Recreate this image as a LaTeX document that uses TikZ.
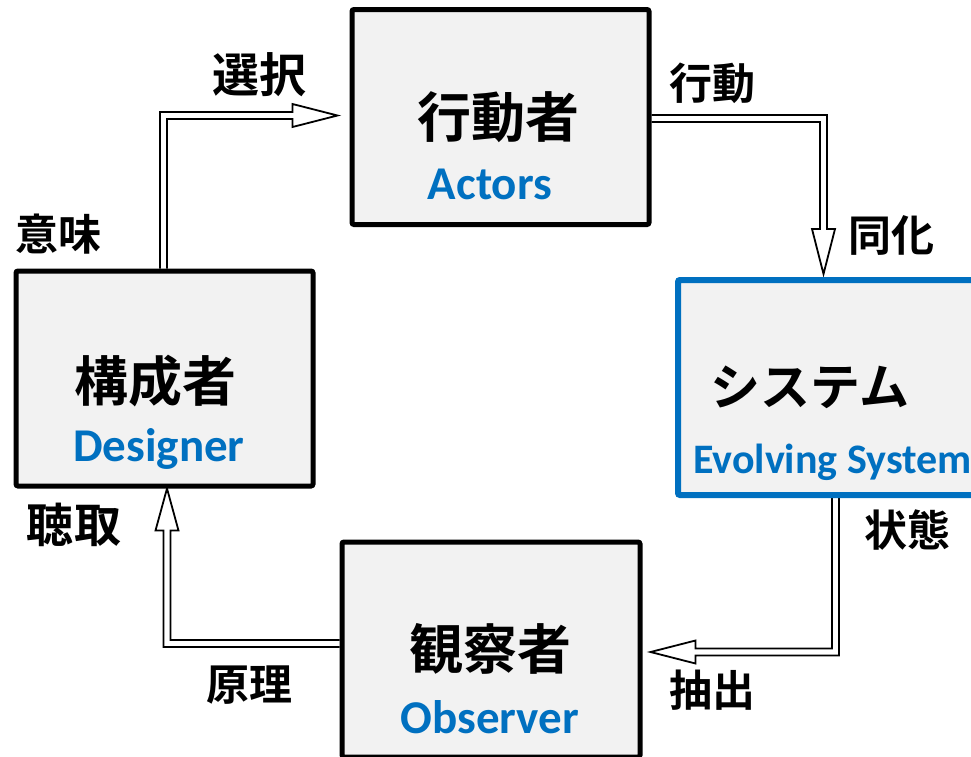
\documentclass[tikz,border=0pt]{standalone}
\usepackage{fontspec}
\setmainfont{Carlito}
\newfontfamily\cjk{Noto Sans CJK JP}[BoldFont={Noto Sans CJK JP Bold}]
\usetikzlibrary{calc,backgrounds}
\definecolor{boxgray}{HTML}{F2F2F2}
\definecolor{sysblue}{HTML}{0070C0}
\tikzset{
  box/.style={rectangle, draw=black, line width=5pt, fill=boxgray, rounded corners=2pt, inner sep=0pt, minimum width=297pt, minimum height=215pt},
  sysbox/.style={box, draw=sysblue, line width=6pt},
  title/.style={font=\cjk\bfseries\fontsize{54}{60}\selectfont, inner sep=0pt},
  sub/.style={font=\bfseries\fontsize{47}{52}\selectfont, text=sysblue, inner sep=0pt},
  lab/.style={font=\cjk\bfseries\fontsize{43}{48}\selectfont, inner sep=0pt},
  labbig/.style={font=\cjk\bfseries\fontsize{47}{52}\selectfont, inner sep=0pt},
  hollow/.style={draw=black, fill=white, line width=1.8pt, line join=miter}
}
\begin{document}
\begin{tikzpicture}[x=1pt,y=-1pt]
\useasboundingbox (0,0) rectangle (971,756);
\clip (0,0) rectangle (971,756);
% boxes
\node[box] (actors) at (500.5,117) {};
\node[box] (designer) at (164.5,378.5) {};
\node[box, minimum width=298pt] (observer) at (491,649.5) {};
\node[sysbox] (system) at (826.5,387.5) {};
% box texts
\node[title] (tact) at (498,117) {行動者};
\node[sub, anchor=base] (sact) at (490,199) {Actors};
\node[title] (tdes) at (155,381) {構成者};
\node[sub, anchor=base] (sdes) at (159,461) {Designer};
\node[title] (tobs) at (490,649) {観察者};
\node[sub, anchor=base] (sobs) at (490,733) {Observer};
\node[title, font=\cjk\bfseries\fontsize{50}{56}\selectfont] (tsys) at (810,387) {システム};
\node[sub, anchor=base west, font=\bfseries\fontsize{42}{46}\selectfont] (ssys) at (693,473) {Evolving System};
% labels
\node[labbig] (lsel) at (259,75) {選択};
\node[lab] (lact) at (712,83) {行動};
\node[lab] (lass) at (891,235) {同化};
\node[lab] (lmean) at (58,234) {意味};
\node[labbig] (llis) at (74,525) {聴取};
\node[lab] (lpri) at (249,685) {原理};
\node[lab] (lstate) at (907,530) {状態};
\node[lab] (lext) at (712,690) {抽出};
% connector anchor points
\coordinate (a1s) at ($(designer.north)+(-1,0)$);
\coordinate (a1t) at ($(actors.west)+(-12,-1.5)$);
\coordinate (a1c) at (a1s |- a1t);
\coordinate (a2s) at ($(actors.east)+(0,1.5)$);
\coordinate (a2t) at ($(system.north)+(-3,-3)$);
\coordinate (a2c) at (a2t |- a2s);
\coordinate (a3s) at ($(system.south)+(9,0)$);
\coordinate (a3t) at ($(observer.east)+(8,2.5)$);
\coordinate (a3c) at (a3s |- a3t);
\coordinate (a4s) at ($(observer.west)+(0,-6)$);
\coordinate (a4t) at ($(designer.south)+(2.5,0)$);
\coordinate (a4c) at (a4t |- a4s);
\begin{pgfonlayer}{background}
% designer -> actors
\draw[hollow] ($(a1s)+(-3.5,0)$) -- ($(a1c)+(-3.5,-3.5)$) -- ($(a1t)+(-45,-3.5)$) -- ($(a1t)+(-45,-11.5)$) -- (a1t) -- ($(a1t)+(-45,11.5)$) -- ($(a1t)+(-45,3.5)$) -- ($(a1c)+(3.5,3.5)$) -- ($(a1s)+(3.5,0)$);
% actors -> system
\draw[hollow] ($(a2s)+(0,-3.5)$) -- ($(a2c)+(3.5,-3.5)$) -- ($(a2t)+(3.5,-45)$) -- ($(a2t)+(11.5,-45)$) -- (a2t) -- ($(a2t)+(-11.5,-45)$) -- ($(a2t)+(-3.5,-45)$) -- ($(a2c)+(-3.5,3.5)$) -- ($(a2s)+(0,3.5)$);
% system -> observer
\draw[hollow] ($(a3s)+(3.5,0)$) -- ($(a3c)+(3.5,3.5)$) -- ($(a3t)+(45,3.5)$) -- ($(a3t)+(45,11.5)$) -- (a3t) -- ($(a3t)+(45,-11.5)$) -- ($(a3t)+(45,-3.5)$) -- ($(a3c)+(-3.5,-3.5)$) -- ($(a3s)+(-3.5,0)$);
% observer -> designer
\draw[hollow] ($(a4s)+(0,3.5)$) -- ($(a4c)+(-3.5,3.5)$) -- ($(a4t)+(-3.5,42)$) -- ($(a4t)+(-11.5,42)$) -- (a4t) -- ($(a4t)+(11.5,42)$) -- ($(a4t)+(3.5,42)$) -- ($(a4c)+(3.5,-3.5)$) -- ($(a4s)+(0,-3.5)$);
\end{pgfonlayer}
\end{tikzpicture}
\end{document}
